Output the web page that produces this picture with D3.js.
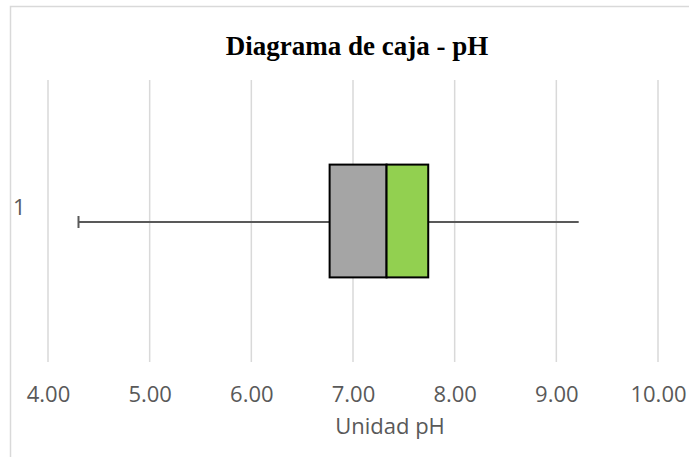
<!DOCTYPE html>
<html><head><meta charset="utf-8">
<script src="https://cdn.jsdelivr.net/npm/d3@7"></script>
<style>body{margin:0;background:#fff}svg{display:block}</style>
</head><body>
<script>
const categories = ["1"];
const minVals = [4.30];
const q1Vals = [6.77];
const medianVals = [7.33];
const q3Vals = [7.74];
const maxVals = [9.22];
const xTicks = [4, 5, 6, 7, 8, 9, 10];
const title = "Diagrama de caja - pH";
const xTitle = "Unidad pH";

const W = 689, H = 457;
const svg = d3.select("body").append("svg").attr("width", W).attr("height", H);
svg.append("rect").attr("x", 10.5).attr("y", 6.5).attr("width", W).attr("height", H)
  .attr("fill", "#fff").attr("stroke", "#d9d9d9").attr("stroke-width", 1.5);

const x = d3.scaleLinear().domain([4, 10]).range([48, 658]);
const y = d3.scaleBand().domain(categories).range([80, 362]).paddingInner(0.6).paddingOuter(0.3);

svg.append("text").attr("x", 357).attr("y", 55).attr("text-anchor", "middle")
  .attr("font-family", "Liberation Serif, Times New Roman, serif").attr("font-weight", "bold")
  .attr("font-size", 27).attr("fill", "#000").text(title);

// gridlines
svg.append("g").selectAll("line").data(xTicks).join("line")
  .attr("x1", d => x(d)).attr("x2", d => x(d)).attr("y1", 80).attr("y2", 362)
  .attr("stroke", "#d9d9d9").attr("stroke-width", 1.5);

// x axis labels
const xAxis = d3.axisBottom(x).tickValues(xTicks).tickFormat(d3.format(".2f")).tickSize(0).tickPadding(0);
const gx = svg.append("g").attr("transform", "translate(0,402)").call(xAxis);
gx.select(".domain").remove();
gx.selectAll("text").attr("dy", 0).attr("font-family", "Open Sans, sans-serif").attr("font-size", 22).attr("fill", "#595959");

svg.append("text").attr("x", 390).attr("y", 434).attr("text-anchor", "middle")
  .attr("font-family", "Open Sans, sans-serif").attr("font-size", 22).attr("fill", "#595959").text(xTitle);

// category labels
svg.append("g").selectAll("text").data(categories).join("text")
  .attr("x", 13).attr("y", (d) => y(d) + y.bandwidth() / 2 - 6)
  .attr("font-family", "Open Sans, sans-serif").attr("font-size", 22).attr("fill", "#595959").text(d => d);

const data = categories.map((c, i) => ({c, min: minVals[i], q1: q1Vals[i], med: medianVals[i], q3: q3Vals[i], max: maxVals[i]}));
const g = svg.append("g");
data.forEach(d => {
  const cy = y(d.c) + y.bandwidth() / 2 + 1;
  g.append("line").attr("x1", x(d.min)).attr("x2", x(d.max)).attr("y1", cy).attr("y2", cy)
    .attr("stroke", "#595959").attr("stroke-width", 2);
  g.append("line").attr("x1", x(d.min)).attr("x2", x(d.min)).attr("y1", cy - 6).attr("y2", cy + 6)
    .attr("stroke", "#595959").attr("stroke-width", 2);
  g.append("rect").attr("x", x(d.q1)).attr("y", y(d.c)).attr("width", x(d.med) - x(d.q1)).attr("height", y.bandwidth())
    .attr("fill", "#a5a5a5").attr("stroke", "#000").attr("stroke-width", 2);
  g.append("rect").attr("x", x(d.med)).attr("y", y(d.c)).attr("width", x(d.q3) - x(d.med)).attr("height", y.bandwidth())
    .attr("fill", "#92d050").attr("stroke", "#000").attr("stroke-width", 2);
});
</script>
</body></html>
